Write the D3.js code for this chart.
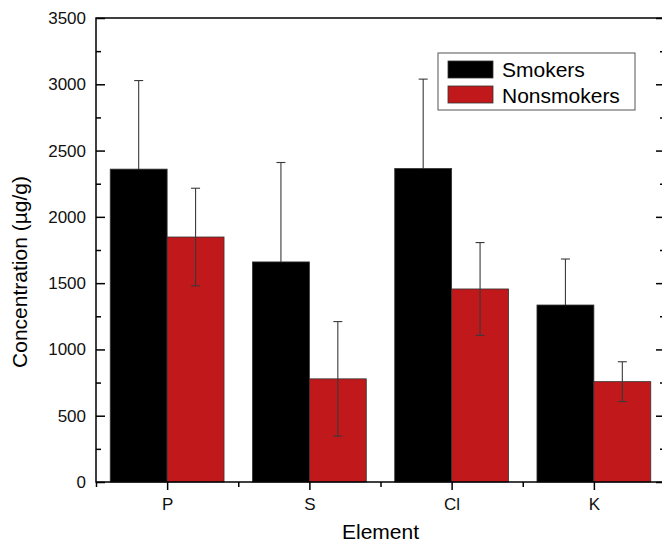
<!DOCTYPE html>
<html>
<head>
<meta charset="utf-8">
<script src="https://cdn.jsdelivr.net/npm/d3@7"></script>
<style>
  body { margin: 0; background: #fff; }
  svg { display: block; font-family: 'Liberation Sans', Arial, sans-serif; }
</style>
</head>
<body>
<svg id="chart" width="662" height="545"></svg>
<script>
// Data
const elements = ['P', 'S', 'Cl', 'K']
const smokers = [2360, 1660, 2365, 1335]
const smokersErr = [668, 750, 674, 347]
const nonsmokers = [1848, 778, 1456, 757]
const nonsmokersErr = [368, 432, 350, 150]
const yMajorTicks = [0, 500, 1000, 1500, 2000, 2500, 3000, 3500]
const yMinorTicks = [250, 750, 1250, 1750, 2250, 2750, 3250]

const series = [
  { name: 'Smokers', values: smokers, err: smokersErr, colour: '#000000', offset: -0.4 },
  { name: 'Nonsmokers', values: nonsmokers, err: nonsmokersErr, colour: '#c1191b', offset: 0 }
]

const dim = { left: 96, right: 665, top: 18, bottom: 482 }
const barWidth = 0.4

const svg = d3.select('#chart')

const x = d3.scaleLinear().domain([0.5, 4.5]).range([dim.left, dim.right])
const y = d3.scaleLinear().domain([0, 3500]).range([dim.bottom, dim.top])

// Error bars (smokers' sit behind their bars, nonsmokers' in front)
function drawErrors (s, cls) {
  const g = svg.append('g').attr('class', cls)
    .attr('stroke', '#3a3a3a').attr('stroke-width', 1.1).attr('fill', 'none')
  s.values.forEach((v, i) => {
    const cx = x(i + 1 + s.offset + barWidth / 2)
    const lo = y(v - s.err[i])
    const hi = y(v + s.err[i])
    g.append('line').attr('x1', cx).attr('x2', cx).attr('y1', lo).attr('y2', hi)
    g.append('line').attr('x1', cx - 4.5).attr('x2', cx + 4.5).attr('y1', hi).attr('y2', hi)
    g.append('line').attr('x1', cx - 4.5).attr('x2', cx + 4.5).attr('y1', lo).attr('y2', lo)
  })
}

drawErrors(series[0], 'err-smokers')

series.forEach((s) => {
  svg.append('g').attr('class', 'bars')
    .selectAll('rect')
    .data(s.values)
    .join('rect')
    .attr('x', (d, i) => x(i + 1 + s.offset))
    .attr('y', (d) => y(d))
    .attr('width', x(1 + barWidth) - x(1))
    .attr('height', (d) => y(0) - y(d))
    .attr('fill', s.colour)
    .attr('stroke', '#333')
    .attr('stroke-width', 0.8)
})

drawErrors(series[1], 'err-nonsmokers')

// Axes
function styleAxis (g) {
  g.select('.domain').remove()
  g.selectAll('.tick line').attr('stroke', '#000').attr('stroke-width', 1.5)
  g.selectAll('.tick text').attr('fill', '#111').style('font-size', '17px')
    .style('font-family', "'Liberation Sans', Arial, sans-serif")
}

svg.append('g').attr('transform', `translate(${dim.left},0)`)
  .call(d3.axisLeft(y).tickValues(yMajorTicks).tickSize(-9).tickPadding(10).tickFormat(d3.format('d')))
  .call(styleAxis)
svg.append('g').attr('transform', `translate(${dim.left},0)`)
  .call(d3.axisLeft(y).tickValues(yMinorTicks).tickSize(-5).tickFormat(''))
  .call(styleAxis)
svg.append('g').attr('transform', `translate(${dim.right},0)`)
  .call(d3.axisRight(y).tickValues(yMajorTicks).tickSize(-9).tickFormat(''))
  .call(styleAxis)
svg.append('g').attr('transform', `translate(${dim.right},0)`)
  .call(d3.axisRight(y).tickValues(yMinorTicks).tickSize(-5).tickFormat(''))
  .call(styleAxis)

svg.append('g').attr('transform', `translate(0,${dim.bottom})`)
  .call(d3.axisBottom(x).tickValues([1, 2, 3, 4]).tickSize(8).tickPadding(8)
    .tickFormat((d) => elements[d - 1]))
  .call(styleAxis)
svg.append('g').attr('transform', `translate(0,${dim.bottom})`)
  .call(d3.axisBottom(x).tickValues([0.5, 1.5, 2.5, 3.5, 4.5]).tickSize(5).tickFormat(''))
  .call(styleAxis)

// Frame
svg.append('rect')
  .attr('x', dim.left).attr('y', dim.top)
  .attr('width', dim.right - dim.left).attr('height', dim.bottom - dim.top)
  .attr('fill', 'none').attr('stroke', '#000').attr('stroke-width', 1.5)

// Axis titles
svg.append('text')
  .attr('transform', 'translate(27,272) rotate(-90)')
  .attr('text-anchor', 'middle')
  .style('font-size', '21px')
  .text('Concentration (µg/g)')

svg.append('text')
  .attr('x', (dim.left + dim.right) / 2).attr('y', 539)
  .attr('text-anchor', 'middle')
  .style('font-size', '21px')
  .text('Element')

// Legend
const legend = svg.append('g').attr('class', 'legend')
legend.append('rect')
  .attr('x', 438).attr('y', 53).attr('width', 197).attr('height', 57)
  .attr('fill', '#fff').attr('stroke', '#555').attr('stroke-width', 1)
series.forEach((s, i) => {
  legend.append('rect')
    .attr('x', 448).attr('y', 61 + i * 25).attr('width', 45).attr('height', 17)
    .attr('fill', s.colour).attr('stroke', '#333').attr('stroke-width', 0.8)
  legend.append('text')
    .attr('x', 502).attr('y', 77 + i * 25.5)
    .style('font-size', '21px')
    .text(s.name)
})
</script>
</body>
</html>
